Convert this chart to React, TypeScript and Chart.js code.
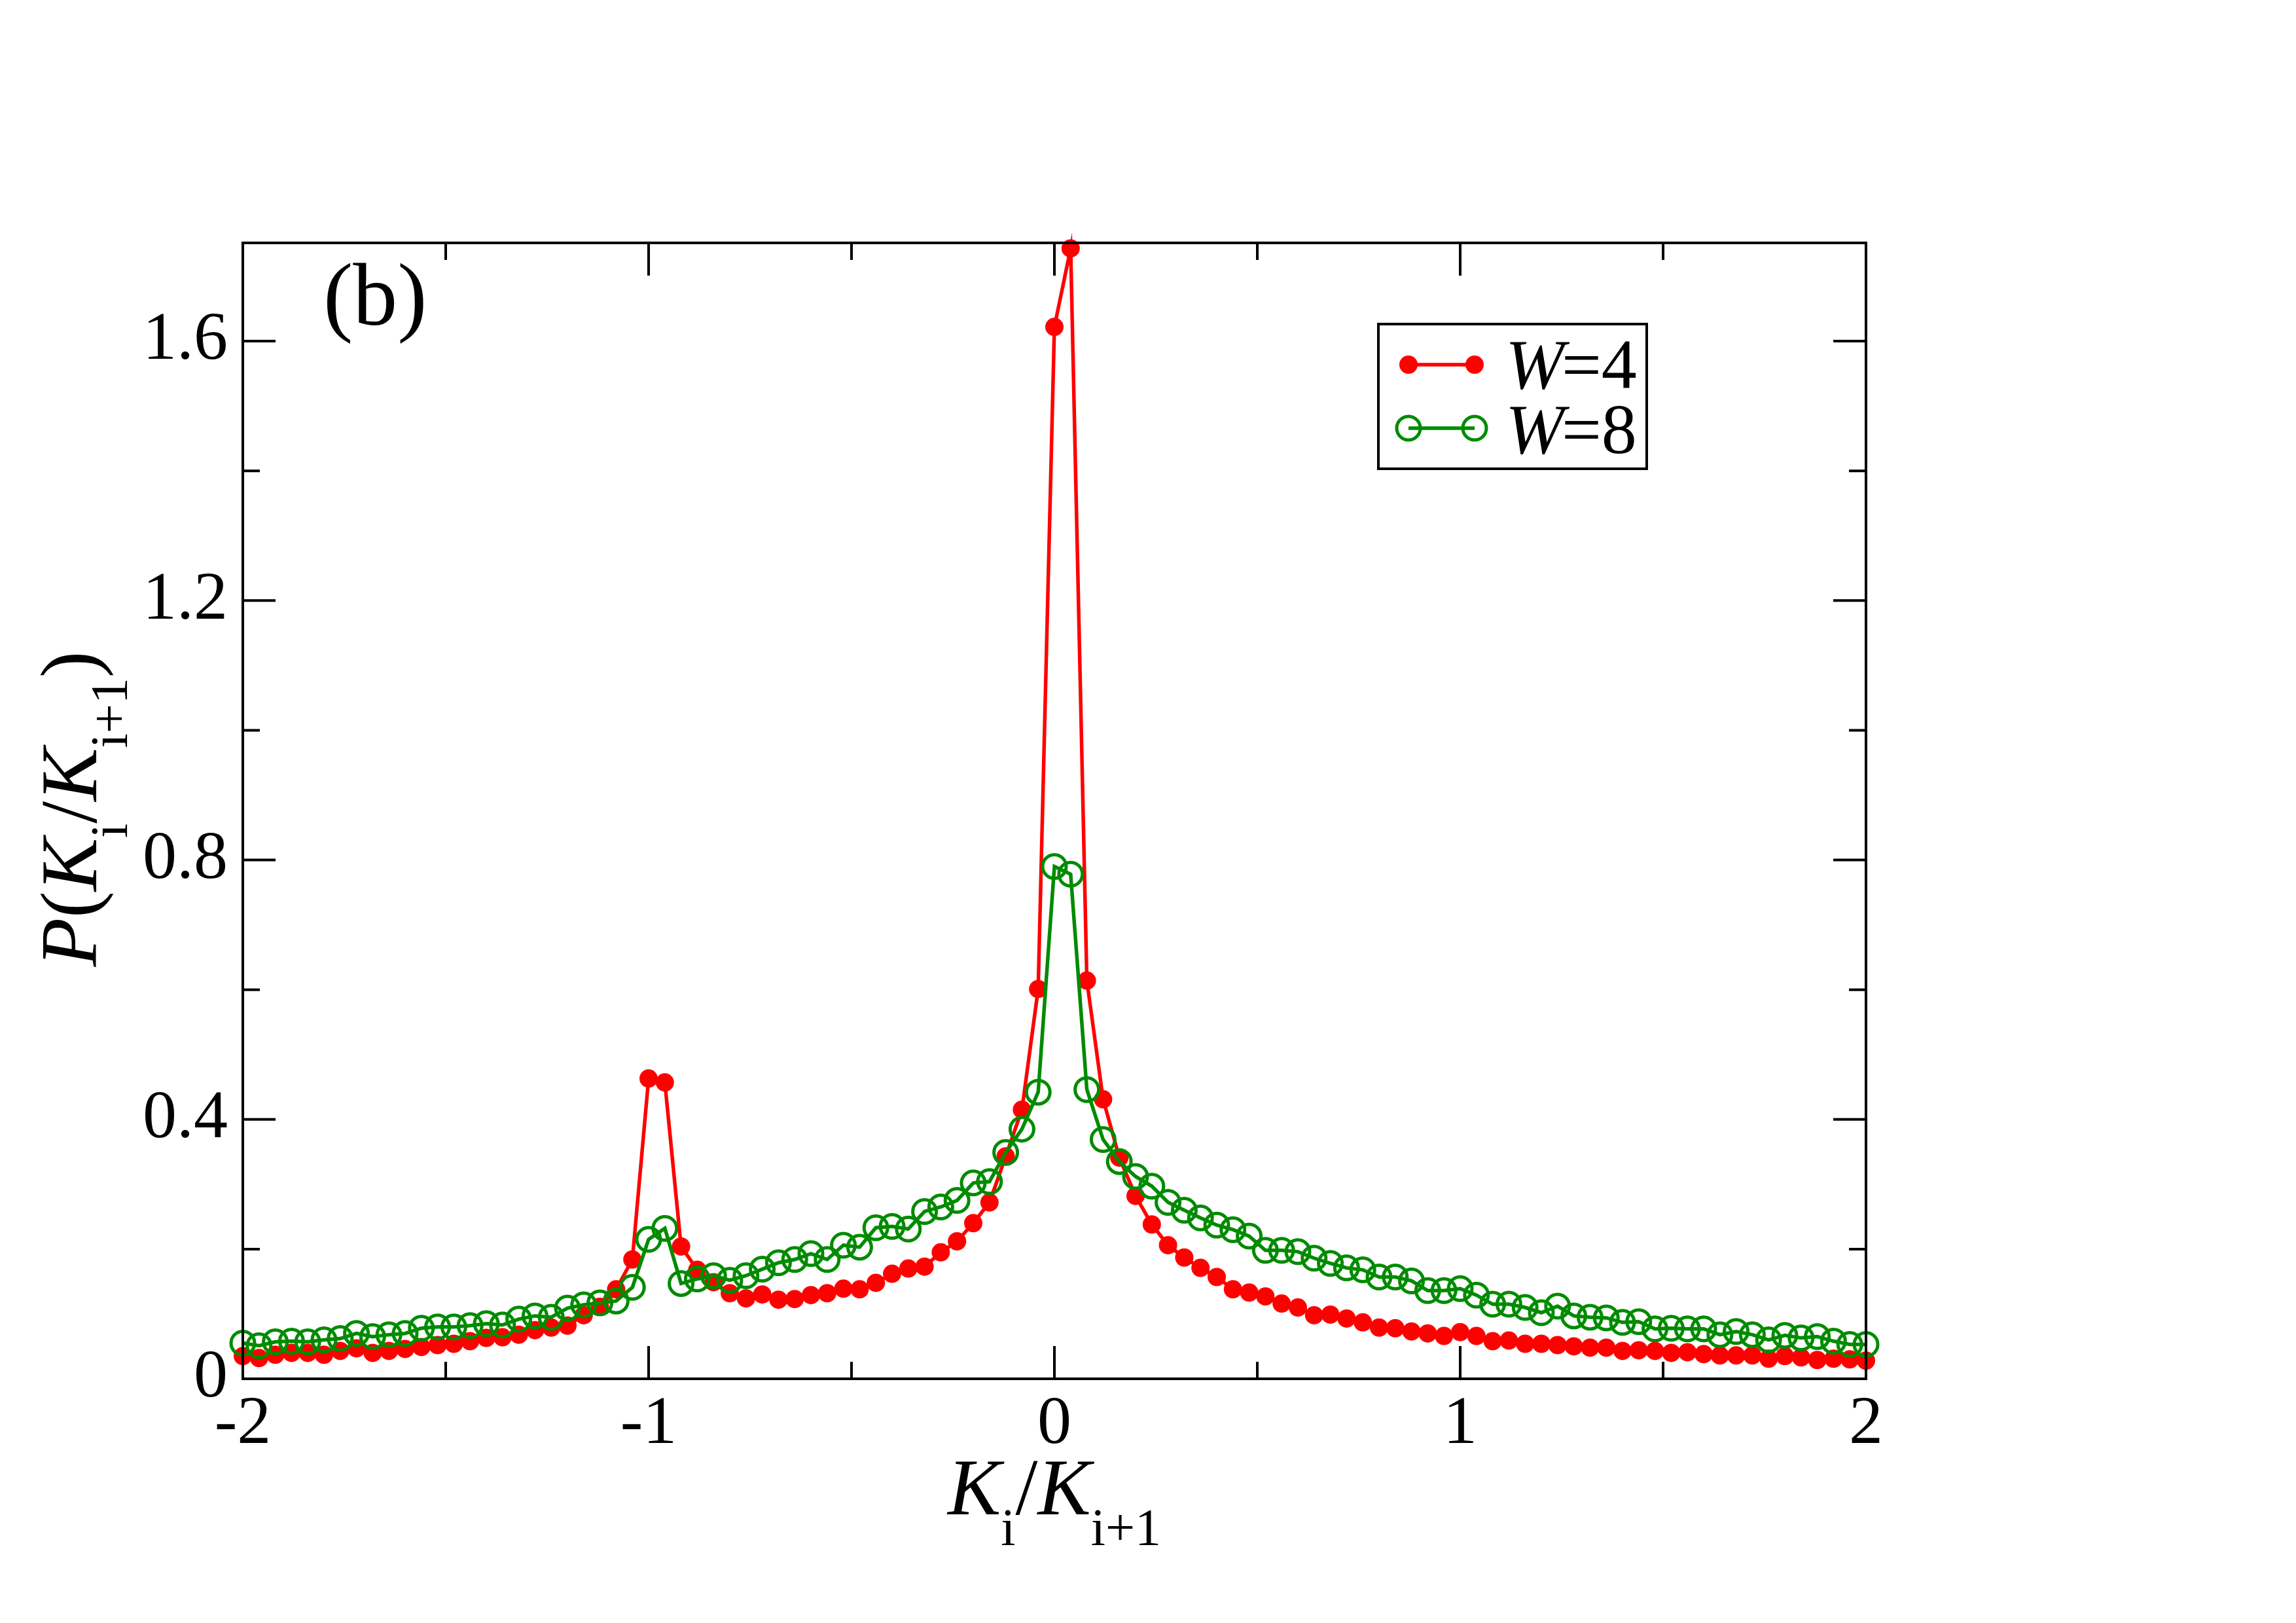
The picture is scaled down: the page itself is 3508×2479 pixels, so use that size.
import React, { useEffect, useRef } from 'react';
import { Chart, registerables } from 'chart.js';

Chart.register(...registerables);

const CANVAS_W = 3508;
const CANVAS_H = 2479;

// bin positions K_i/K_{i+1}
const xBins = [
  -2.00, -1.96, -1.92, -1.88, -1.84, -1.80, -1.76, -1.72, -1.68, -1.64,
  -1.60, -1.56, -1.52, -1.48, -1.44, -1.40, -1.36, -1.32, -1.28, -1.24,
  -1.20, -1.16, -1.12, -1.08, -1.04, -1.00, -0.96, -0.92, -0.88, -0.84,
  -0.80, -0.76, -0.72, -0.68, -0.64, -0.60, -0.56, -0.52, -0.48, -0.44,
  -0.40, -0.36, -0.32, -0.28, -0.24, -0.20, -0.16, -0.12, -0.08, -0.04,
  0.00, 0.04, 0.08, 0.12, 0.16, 0.20, 0.24, 0.28, 0.32, 0.36,
  0.40, 0.44, 0.48, 0.52, 0.56, 0.60, 0.64, 0.68, 0.72, 0.76,
  0.80, 0.84, 0.88, 0.92, 0.96, 1.00, 1.04, 1.08, 1.12, 1.16,
  1.20, 1.24, 1.28, 1.32, 1.36, 1.40, 1.44, 1.48, 1.52, 1.56,
  1.60, 1.64, 1.68, 1.72, 1.76, 1.80, 1.84, 1.88, 1.92, 1.96,
  2.00,
];

// W = 4 (red, filled circles)
const w4Values = [
  0.035, 0.032, 0.037, 0.040, 0.040, 0.037, 0.043, 0.047, 0.040, 0.043,
  0.046, 0.049, 0.052, 0.054, 0.058, 0.063, 0.064, 0.068, 0.075, 0.079,
  0.082, 0.098, 0.111, 0.138, 0.184, 0.463, 0.457, 0.204, 0.168, 0.149,
  0.132, 0.124, 0.130, 0.122, 0.123, 0.129, 0.132, 0.139, 0.138, 0.148,
  0.162, 0.170, 0.173, 0.195, 0.212, 0.240, 0.272, 0.343, 0.415, 0.601,
  1.622, 1.743, 0.614, 0.431, 0.341, 0.282, 0.238, 0.206, 0.187, 0.171,
  0.157, 0.138, 0.133, 0.127, 0.116, 0.110, 0.098, 0.099, 0.093, 0.087,
  0.079, 0.078, 0.073, 0.070, 0.066, 0.072, 0.066, 0.058, 0.059, 0.054,
  0.054, 0.052, 0.050, 0.048, 0.048, 0.043, 0.044, 0.043, 0.040, 0.041,
  0.038, 0.036, 0.036, 0.036, 0.031, 0.035, 0.033, 0.029, 0.031, 0.030,
  0.028,
];

// W = 8 (green, open circles)
const w8Values = [
  0.055, 0.051, 0.057, 0.058, 0.057, 0.060, 0.062, 0.070, 0.065, 0.068,
  0.070, 0.078, 0.080, 0.080, 0.082, 0.085, 0.083, 0.092, 0.097, 0.095,
  0.109, 0.114, 0.117, 0.120, 0.141, 0.215, 0.232, 0.147, 0.154, 0.159,
  0.152, 0.159, 0.169, 0.179, 0.184, 0.193, 0.184, 0.206, 0.203, 0.233,
  0.235, 0.231, 0.258, 0.265, 0.275, 0.302, 0.304, 0.349, 0.385, 0.442,
  0.790, 0.778, 0.446, 0.369, 0.335, 0.312, 0.297, 0.272, 0.260, 0.248,
  0.237, 0.230, 0.220, 0.198, 0.198, 0.196, 0.186, 0.178, 0.171, 0.168,
  0.157, 0.157, 0.151, 0.136, 0.136, 0.139, 0.129, 0.115, 0.115, 0.110,
  0.102, 0.112, 0.097, 0.095, 0.094, 0.087, 0.088, 0.077, 0.078, 0.077,
  0.077, 0.068, 0.073, 0.068, 0.060, 0.067, 0.063, 0.065, 0.058, 0.053,
  0.053,
];

const xTickValues = [-2, -1, 0, 1, 2];
const xTickLabels = ['-2', '-1', '0', '1', '2'];
const xMinorTicks = [-1.5, -0.5, 0.5, 1.5];
const yTickValues = [0, 0.4, 0.8, 1.2, 1.6];
const yTickLabels = ['0', '0.4', '0.8', '1.2', '1.6'];
const yMinorTicks = [0.2, 0.6, 1.0, 1.4];

const legendItalic = ['W', 'W'];
const legendRest = ['=4', '=8'];
const panelLabel = '(b)';

const RED = '#ff0000';
const GREEN = '#008b00';
const SERIF = "'Liberation Serif', 'Times New Roman', serif";

type Part = { text: string; size: number; italic?: boolean; dy?: number };

function drawRich(ctx: CanvasRenderingContext2D, parts: Part[], cx: number, baseY: number) {
  let total = 0;
  const widths: number[] = [];
  for (const p of parts) {
    ctx.font = `${p.italic ? 'italic ' : ''}${p.size}px ${SERIF}`;
    const w = ctx.measureText(p.text).width;
    widths.push(w);
    total += w;
  }
  let x = cx - total / 2;
  ctx.textAlign = 'left';
  ctx.textBaseline = 'alphabetic';
  parts.forEach((p, i) => {
    ctx.font = `${p.italic ? 'italic ' : ''}${p.size}px ${SERIF}`;
    ctx.fillText(p.text, x, baseY + (p.dy || 0));
    x += widths[i];
  });
}

const framePlugin = {
  id: 'frameAndDecor',
  afterDraw(chart: any) {
    const ctx: CanvasRenderingContext2D = chart.ctx;
    const { left, right, top, bottom } = chart.chartArea;
    const xs = chart.scales.x;
    const ys = chart.scales.y;
    ctx.save();
    ctx.strokeStyle = '#000';
    ctx.fillStyle = '#000';
    ctx.lineWidth = 4;
    ctx.lineCap = 'butt';
    ctx.strokeRect(left, top, right - left, bottom - top);

    const major = 50;
    const minor = 26;
    ctx.beginPath();
    const xt = (v: number, len: number) => {
      const px = xs.getPixelForValue(v);
      ctx.moveTo(px, bottom); ctx.lineTo(px, bottom - len);
      ctx.moveTo(px, top); ctx.lineTo(px, top + len);
    };
    const yt = (v: number, len: number) => {
      const py = ys.getPixelForValue(v);
      ctx.moveTo(left, py); ctx.lineTo(left + len, py);
      ctx.moveTo(right, py); ctx.lineTo(right - len, py);
    };
    xTickValues.forEach((v) => xt(v, major));
    xMinorTicks.forEach((v) => xt(v, minor));
    yTickValues.forEach((v) => yt(v, major));
    yMinorTicks.forEach((v) => yt(v, minor));
    ctx.stroke();

    // panel label
    ctx.font = `136px ${SERIF}`;
    ctx.textAlign = 'left';
    ctx.textBaseline = 'alphabetic';
    ctx.fillText(panelLabel, 494, 496);

    // x axis title
    const cx = (left + right) / 2;
    drawRich(ctx, [
      { text: 'K', size: 122, italic: true },
      { text: 'i', size: 80, dy: 47 },
      { text: '/', size: 122 },
      { text: 'K', size: 122, italic: true },
      { text: 'i+1', size: 80, dy: 47 },
    ], cx, 2313);

    // y axis title
    ctx.save();
    ctx.translate(147, (top + bottom) / 2 - 3);
    ctx.rotate(-Math.PI / 2);
    drawRich(ctx, [
      { text: 'P', size: 122, italic: true },
      { text: '(', size: 122 },
      { text: 'K', size: 122, italic: true },
      { text: 'i', size: 80, dy: 47 },
      { text: '/', size: 122 },
      { text: 'K', size: 122, italic: true },
      { text: 'i+1', size: 80, dy: 47 },
      { text: ')', size: 122 },
    ], 0, 0);
    ctx.restore();

    // legend
    ctx.lineWidth = 4;
    ctx.strokeRect(2106, 495, 410, 221);
    const rows = [557, 654];
    const textBase = [593, 692];
    const colors = [RED, GREEN];
    rows.forEach((ry, i) => {
      ctx.strokeStyle = colors[i];
      ctx.lineWidth = 5.5;
      ctx.beginPath();
      ctx.moveTo(2152, ry);
      ctx.lineTo(2253, ry);
      ctx.stroke();
      [2152, 2253].forEach((mx) => {
        ctx.beginPath();
        if (i === 0) {
          ctx.fillStyle = RED;
          ctx.arc(mx, ry, 14, 0, Math.PI * 2);
          ctx.fill();
        } else {
          ctx.lineWidth = 5;
          ctx.arc(mx, ry, 18, 0, Math.PI * 2);
          ctx.stroke();
        }
      });
      ctx.fillStyle = '#000';
      ctx.textAlign = 'left';
      ctx.textBaseline = 'alphabetic';
      ctx.font = `italic 108px ${SERIF}`;
      ctx.fillText(legendItalic[i], 2300, textBase[i]);
      const wW = ctx.measureText(legendItalic[i]).width;
      ctx.font = `108px ${SERIF}`;
      ctx.fillText(legendRest[i], 2300 + wW - 4, textBase[i]);
    });
    ctx.restore();
  },
};

export default function App() {
  const canvasRef = useRef<HTMLCanvasElement | null>(null);

  useEffect(() => {
    const canvas = canvasRef.current;
    if (!canvas) return;
    const chart = new Chart(canvas, {
      type: 'line',
      data: {
        datasets: [
          {
            label: 'W=8',
            data: xBins.map((x, i) => ({ x, y: w8Values[i] })),
            borderColor: GREEN,
            borderWidth: 5.5,
            pointRadius: 18,
            pointBorderWidth: 5,
            pointBorderColor: GREEN,
            pointBackgroundColor: 'rgba(0,0,0,0)',
            pointStyle: 'circle',
            tension: 0,
            clip: false as any,
            order: 1,
          },
          {
            label: 'W=4',
            data: xBins.map((x, i) => ({ x, y: w4Values[i] })),
            borderColor: RED,
            borderWidth: 5.5,
            pointRadius: 12.5,
            pointBorderWidth: 3,
            pointBorderColor: RED,
            pointBackgroundColor: RED,
            pointStyle: 'circle',
            tension: 0,
            clip: false as any,
            order: 2,
          },
        ],
      },
      options: {
        responsive: false,
        animation: false,
        devicePixelRatio: 1,
        events: [],
        layout: { padding: { left: 0, top: 371, right: 657, bottom: 0 } },
        plugins: {
          legend: { display: false },
          tooltip: { enabled: false },
          title: { display: false },
        },
        scales: {
          x: {
            type: 'linear',
            position: 'bottom',
            min: -2,
            max: 2,
            afterBuildTicks: (s: any) => {
              s.ticks = xTickValues.map((v) => ({ value: v }));
            },
            afterFit: (s: any) => {
              s.height = 373;
            },
            grid: { display: false, drawTicks: false },
            border: { display: false },
            ticks: {
              autoSkip: false,
              maxRotation: 0,
              padding: 8,
              color: '#000',
              font: { family: SERIF, size: 104 },
              callback: (v: any) => {
                const idx = xTickValues.findIndex((t) => Math.abs(t - Number(v)) < 1e-9);
                return idx >= 0 ? xTickLabels[idx] : '';
              },
            },
          },
          y: {
            type: 'linear',
            position: 'left',
            min: 0,
            max: 1.7515,
            afterBuildTicks: (s: any) => {
              s.ticks = yTickValues.map((v) => ({ value: v }));
            },
            afterFit: (s: any) => {
              s.width = 371;
            },
            grid: { display: false, drawTicks: false },
            border: { display: false },
            ticks: {
              autoSkip: false,
              padding: 23,
              color: '#000',
              font: { family: SERIF, size: 104 },
              callback: (v: any) => {
                const idx = yTickValues.findIndex((t) => Math.abs(t - Number(v)) < 1e-9);
                return idx >= 0 ? yTickLabels[idx] : '';
              },
            },
          },
        },
      },
      plugins: [framePlugin],
    } as any);
    return () => {
      chart.destroy();
    };
  }, []);

  return (
    <div style={{ position: 'absolute', left: 0, top: 0, width: CANVAS_W, height: CANVAS_H, background: '#fff' }}>
      <canvas ref={canvasRef} width={CANVAS_W} height={CANVAS_H} style={{ display: 'block', width: CANVAS_W, height: CANVAS_H }} />
    </div>
  );
}
